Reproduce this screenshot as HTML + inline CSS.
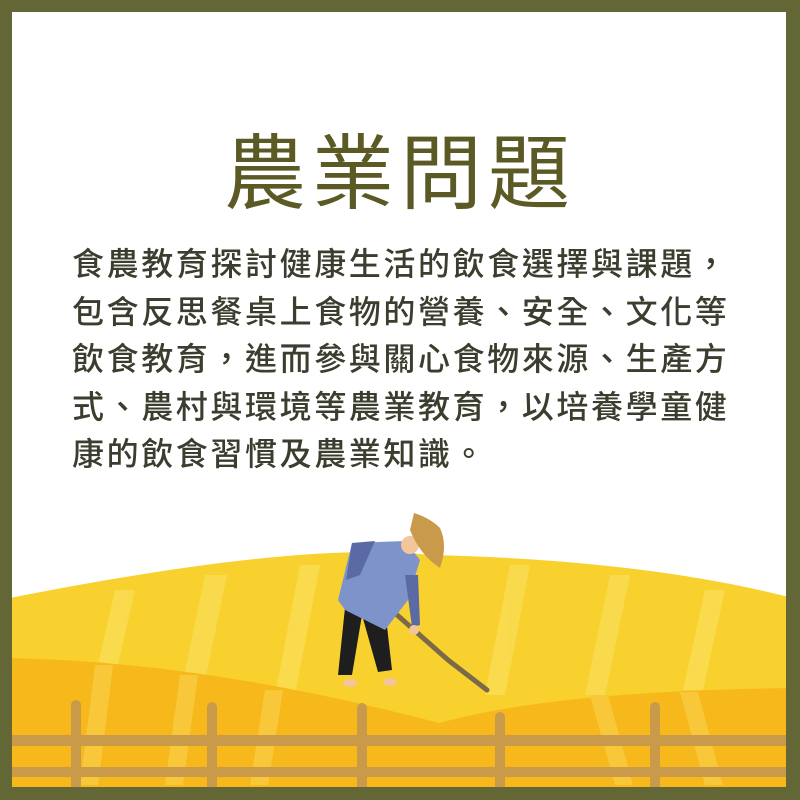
<!DOCTYPE html>
<html><head><meta charset="utf-8"><style>
html,body{margin:0;padding:0;}
body{width:800px;height:800px;position:relative;overflow:hidden;background:#636635;font-family:"Liberation Sans","Noto Sans CJK TC",sans-serif;}
#card{position:absolute;left:12px;top:12px;width:774px;height:775px;background:#fff;overflow:hidden;}
#title{position:absolute;left:0;width:800px;top:113px;text-align:center;font-size:82px;line-height:100px;letter-spacing:6px;color:#5b5a25;font-weight:400;margin-left:-12px;}
.line{position:absolute;left:60px;font-size:32px;line-height:40px;letter-spacing:2.6px;color:#3b3d2e;font-weight:500;white-space:nowrap;}
</style></head><body>
<div id="card">
<div id="title">農業問題</div>
<div class="line" style="top:232px">食農教育探討健康生活的飲食選擇與課題，</div>
<div class="line" style="top:280px">包含反思餐桌上食物的營養、安全、文化等</div>
<div class="line" style="top:327px">飲食教育，進而參與關心食物來源、生產方</div>
<div class="line" style="top:375px">式、農村與環境等農業教育，以培養學童健</div>
<div class="line" style="top:422px">康的飲食習慣及農業知識。</div>
<svg width="800" height="800" viewBox="12 12 800 800" style="position:absolute;left:0;top:0">
<path d="M0,600 Q300,540 430,555 Q650,560 800,600 L800,800 L0,800Z" fill="#f8d12e"/>
<g fill="#fadd55" opacity="0.8">
<path d="M115,590 l20,0 -25,110 -20,0z"/><path d="M205,575 l22,0 -25,120 -22,0z"/><path d="M300,565 l20,0 -25,130 -20,0z"/>
<path d="M510,565 l20,0 -25,130 -20,0z"/><path d="M610,575 l20,0 -25,120 -20,0z"/><path d="M705,590 l20,0 -22,100 -20,0z"/>
</g>
<path d="M0,658 Q200,660 439,723 L439,800 L0,800Z" fill="#f7b81c"/>
<path d="M439,723 Q560,690 800,688 L800,800 L439,800Z" fill="#f7b81c"/>
<g fill="#f9c83a">
<path d="M95,665 l18,0 -15,120 -18,0z"/><path d="M180,675 l18,0 -15,110 -18,0z"/><path d="M265,690 l18,0 -15,95 -18,0z"/>
<path d="M590,695 l18,0 25,90 -18,0z"/><path d="M680,692 l18,0 25,93 -18,0z"/>
</g>
<g fill="#c99a4a">
<rect x="0" y="735" width="800" height="11"/><rect x="0" y="767" width="800" height="10"/>
<rect x="71" y="700" width="10" height="90" rx="5"/><rect x="207" y="702" width="10" height="90" rx="5"/><rect x="357" y="703" width="10" height="90" rx="5"/><rect x="495" y="712" width="10" height="80" rx="5"/><rect x="650" y="702" width="10" height="90" rx="5"/>
</g>
<g>
<path d="M396,614 L448,660 L487,690" stroke="#7a6a48" stroke-width="5" fill="none" stroke-linecap="round"/>
<path d="M346,598 L338,675 L352,675 L362,615 L378,672 L392,670 L384,600Z" fill="#1e1e1e"/>
<ellipse cx="350" cy="683" rx="7" ry="4" fill="#f3c59a"/><ellipse cx="390" cy="682" rx="7" ry="4" fill="#f3c59a"/>
<path d="M352,543 L405,541 L420,560 L408,600 L385,630 L345,610 L338,600 Z" fill="#7f93cb"/>
<path d="M352,543 L375,541 L360,575 L346,580Z" fill="#5a6aa4"/>
<path d="M405,575 L418,575 L420,625 L412,627Z" fill="#5a6aa4"/>
<circle cx="414" cy="630" r="5" fill="#f3c59a"/>
<circle cx="410" cy="545" r="9" fill="#f3c59a"/>
<path d="M414,513 Q430,518 440,528 Q448,545 440,568 Q420,555 410,530Z" fill="#c99a4a"/>
</g>
</svg>
</div>
</body></html>
